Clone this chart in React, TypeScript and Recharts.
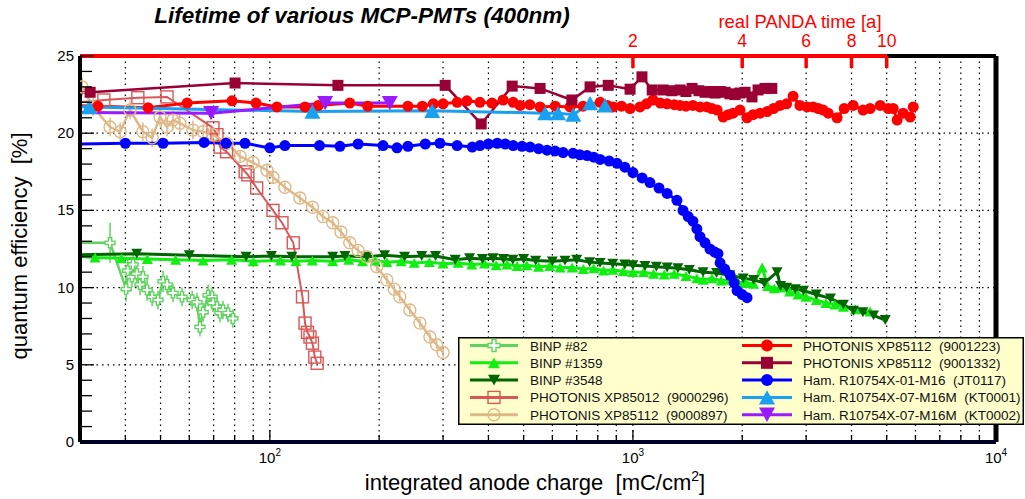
import { LineChart, Line, XAxis, YAxis, CartesianGrid, ReferenceLine, ErrorBar, Legend, Label } from 'recharts'

const W = 1025
const H = 499
const FONT = '"Liberation Sans", Arial, Helvetica, sans-serif'

// axes
const chargeDomain = [30, 10000]
const chargeTicks = [40, 50, 60, 70, 80, 90, 100, 200, 300, 400, 500, 600, 700, 800, 900, 1000, 2000, 3000, 4000, 5000, 6000, 7000, 8000, 9000, 10000]
const chargeGrid = chargeTicks.slice(0, -1)
const qeTicks = [0, 1, 2, 3, 4, 5, 6, 7, 8, 9, 10, 11, 12, 13, 14, 15, 16, 17, 18, 19, 20, 21, 22, 23, 24, 25]
const qeGrid = [5, 10, 15, 20]
const pandaYears = [2, 4, 6, 8, 10]
const chargePerYear = 500
const pandaTicks = pandaYears.map(y => y * chargePerYear)

// [charge, QE, error]
const binp82 = [[27, 12.9, 0], [36.3, 12.9, 1.3], [40.2, 9.9, 0.8], [40.6, 11.1, 0.7], [41.7, 10.7, 0.7], [42, 11.5, 0.7], [43, 10.9, 0.7], [43.9, 10.2, 0.7], [44.7, 10.7, 0.7], [45.9, 9.85, 0.7], [47.4, 9.4, 0.6], [49.2, 9.2, 0.6], [50.8, 10.4, 0.7], [52.1, 10.2, 0.6], [54.1, 9.65, 0.6], [57.3, 9.4, 0.6], [61.1, 9.2, 0.6], [63, 9.05, 0.6], [64.2, 7.45, 0.6], [65.5, 8.4, 0.6], [67.6, 9.5, 0.7], [69.3, 9.4, 0.6], [69.7, 9.0, 0.6], [71.5, 8.75, 0.6], [72.9, 8.35, 0.6], [74.3, 8.55, 0.6], [76.7, 8.35, 0.6], [79.1, 8.0, 0.6]]
const binp1359 = [[27, 12.1], [33, 11.95], [39, 11.9], [46, 11.85], [55, 11.8], [65.5, 11.75], [78.5, 11.8], [90, 11.7], [107, 11.75], [118, 11.7], [131, 11.75], [149, 11.7], [165, 11.8], [180, 11.7], [195, 11.75], [210, 11.65], [230, 11.7], [250, 11.6], [275, 11.65], [300, 11.55], [330, 11.6], [360, 11.5], [390, 11.55], [420, 11.45], [450, 11.5], [480, 11.4], [510, 11.45], [550, 11.35], [590, 11.4], [630, 11.3], [680, 11.3], [730, 11.2], [780, 11.25], [830, 11.1], [880, 11.15], [940, 11.05], [1000, 11.0], [1070, 11.0], [1140, 10.9], [1220, 10.85], [1300, 10.9], [1400, 10.75], [1500, 10.6], [1560, 10.5], [1650, 10.6], [1750, 10.45], [1850, 10.5], [1950, 10.35], [2050, 10.3], [2150, 10.25], [2270, 11.3], [2350, 10.1], [2450, 9.95], [2550, 10.0], [2700, 9.75], [2850, 9.55], [3000, 9.4], [3200, 9.2], [3400, 9.0], [3600, 8.9], [3800, 8.75], [4100, 8.6], [4500, 8.45]]
const binp3548 = [[27, 12.1], [43, 12.2], [60, 12.1], [86, 12.0], [101, 12.05], [115, 12.0], [149, 12.0], [161, 12.05], [185, 12.0], [207, 12.1], [235, 12.0], [262, 12.05], [286, 12.05], [324, 11.8], [355, 11.9], [385, 11.85], [412, 11.9], [440, 11.85], [467, 11.8], [500, 11.85], [540, 11.75], [600, 11.7], [650, 11.75], [700, 11.8], [760, 11.65], [812, 11.6], [880, 11.55], [950, 11.5], [1000, 11.45], [1080, 11.4], [1160, 11.35], [1242, 11.3], [1330, 11.25], [1430, 11.15], [1560, 11.0], [1700, 10.95], [1850, 10.8], [2013, 10.6], [2150, 10.5], [2300, 10.3], [2495, 11.0], [2550, 10.1], [2650, 10.0], [2800, 9.9], [2950, 9.8], [3200, 9.55], [3500, 9.3], [3800, 8.9], [4050, 8.5], [4300, 8.4], [4600, 8.2], [4955, 7.9]]
const xp9000296 = [[27, 21.9], [34.9, 22.15], [43.3, 22.3], [52.1, 22.35], [69.7, 20.35], [71.5, 19.9], [73, 19.1], [76, 18.8], [85.5, 17.5], [87, 17.3], [92, 16.45], [102, 15.0], [108, 14.2], [116, 12.9], [123, 9.4], [125, 7.7], [127, 7.1], [129, 6.8], [131, 6.4], [133, 5.5], [135, 5.1]]
const xp9000897 = [[27, 23.3, 0], [30.4, 23.0, 0.6], [32.6, 21.7, 0.6], [36.3, 20.4, 0.6], [38.7, 20.1, 0.6], [41.2, 21.5, 0.6], [44.7, 20.1, 0.6], [47.4, 19.7, 0.6], [49.8, 21.05, 0.6], [52.1, 20.4, 0.6], [54.1, 20.85, 0.6], [56.5, 20.65, 0.6], [61.4, 20.2, 0.6], [65.5, 20.1, 0.5], [69.7, 19.9, 0.5], [76.2, 19.35, 0.4], [82.8, 18.5, 0.4], [89.9, 18.1, 0.4], [98.2, 17.6, 0.4], [102, 17.15, 0.4], [110, 16.5, 0.3], [121, 15.8, 0.3], [131, 15.2, 0.3], [140, 14.6, 0.3], [149, 14.2, 0.3], [157, 13.6, 0.3], [166, 12.9, 0.3], [175, 12.4, 0.3], [185, 12.0, 0.3], [197, 11.35, 0.3], [210, 10.5, 0.3], [220, 9.9, 0.3], [228, 9.4, 0.3], [243, 8.55, 0.3], [259, 7.7, 0.3], [276, 6.8, 0.3], [288, 6.3, 0.3], [300, 5.8, 0.3]]
const xp9001223 = [[27, 21.8], [33.6, 21.75], [46.2, 21.65], [59.2, 21.95], [78.7, 22.1], [91.6, 21.95], [104.6, 21.7], [125, 21.7], [136, 21.8], [166, 21.95], [186, 21.75], [240, 21.75], [263, 21.75], [282, 21.9], [300, 21.9], [328, 22.0], [349, 22.1], [379, 22.0], [409, 21.95], [439, 22.15], [468, 22.0], [489, 21.8], [520, 21.85], [555, 21.7], [611, 21.75], [671, 21.7], [729, 21.75], [812, 22.0], [850, 21.8], [882, 21.7], [930, 21.75], [982, 21.6], [1046, 21.7], [1090, 21.9], [1136, 22.15], [1190, 21.95], [1242, 21.9], [1300, 21.85], [1348, 21.8], [1400, 21.75], [1463, 21.8], [1530, 21.7], [1598, 21.7], [1650, 21.6], [1706, 21.5], [1772, 21.05], [1830, 21.2], [1888, 21.3], [1972, 21.5], [2062, 21.0], [2143, 21.2], [2240, 21.3], [2343, 21.4], [2440, 21.6], [2543, 21.8], [2650, 21.9], [2761, 22.4], [2884, 21.8], [3019, 21.7], [3133, 21.7], [3240, 21.6], [3342, 21.5], [3450, 21.3], [3650, 21.0], [3820, 21.6], [4042, 21.8], [4305, 21.5], [4500, 21.6], [4800, 21.8], [5050, 21.6], [5210, 21.6], [5343, 20.85], [5550, 21.3], [5803, 21.05], [5918, 21.7]]
const xp9001332 = [[27, 22.6], [32, 22.65], [80.2, 23.25], [154, 23.1], [304, 23.1], [382, 20.6], [465, 23.05], [555, 22.9], [679, 22.15], [762, 23.0], [855, 23.1], [982, 22.85], [1059, 23.65], [1130, 22.8], [1211, 22.8], [1280, 22.75], [1349, 22.8], [1400, 22.7], [1455, 22.9], [1520, 22.75], [1580, 22.65], [1630, 22.7], [1683, 22.6], [1740, 22.7], [1794, 22.65], [1850, 22.55], [1910, 22.5], [1970, 22.6], [2036, 22.65], [2128, 22.35], [2211, 22.8], [2311, 22.9], [2413, 22.9]]
const jt0117 = [[27, 19.28], [40, 19.35], [50.8, 19.35], [65.9, 19.4], [75.7, 19.35], [85.4, 19.35], [100, 19.05], [110, 19.2], [137, 19.2], [156, 19.15], [175, 19.3], [205, 19.2], [224, 19.05], [240, 19.15], [268, 19.3], [294, 19.35], [328, 19.2], [361, 19.1], [379, 19.2], [400, 19.3], [423, 19.35], [445, 19.3], [468, 19.2], [495, 19.15], [521, 19.1], [550, 19.0], [580, 18.9], [610, 18.85], [642, 18.75], [684, 18.7], [715, 18.6], [748, 18.55], [780, 18.45], [812, 18.3], [860, 18.2], [904, 18.05], [950, 17.8], [1000, 17.45], [1060, 17.1], [1114, 16.8], [1180, 16.45], [1242, 16.1], [1322, 15.65], [1374, 15.0], [1420, 14.6], [1463, 14.3], [1500, 13.8], [1530, 13.3], [1580, 12.9], [1630, 12.5], [1680, 12.3], [1715, 12.2], [1738, 11.6], [1790, 11.2], [1852, 10.8], [1900, 10.3], [1936, 9.8], [2000, 9.55], [2062, 9.35]]
const kt0001 = [[27, 21.75], [31.8, 21.7], [131, 21.4], [280, 21.45], [573, 21.3], [622, 21.3], [685, 21.2], [762, 21.95], [838, 21.8]]
const kt0002 = [[27, 21.35], [68.9, 21.3], [142, 21.95], [214, 21.95]]

const toRows = (arr: number[][]) => arr.map(([x, y, e]) => ({ x, y, e: e ?? 0 }))

type Kind = 'ocross' | 'tup' | 'tdown' | 'osquare' | 'ocircle' | 'circle' | 'square'

const series = [
  { name: 'BINP #82', data: binp82, color: '#5fd35f', kind: 'ocross', size: 10, lw: 2.5, err: true },
  { name: 'BINP #1359', data: binp1359, color: '#11ee11', kind: 'tup', size: 11, lw: 3 },
  { name: 'BINP #3548', data: binp3548, color: '#006600', kind: 'tdown', size: 11, lw: 3 },
  { name: 'PHOTONIS XP85012  (9000296)', data: xp9000296, color: '#d95757', kind: 'osquare', size: 12, lw: 2 },
  { name: 'PHOTONIS XP85112  (9000897)', data: xp9000897, color: '#deb887', kind: 'ocircle', size: 12, lw: 2.5, err: true },
  { name: 'PHOTONIS XP85112  (9001223)', data: xp9001223, color: '#ff0000', kind: 'circle', size: 11, lw: 3 },
  { name: 'PHOTONIS XP85112  (9001332)', data: xp9001332, color: '#990033', kind: 'square', size: 11, lw: 2.5 },
  { name: 'Ham. R10754X-01-M16  (JT0117)', data: jt0117, color: '#0000ff', kind: 'circle', size: 11, lw: 3 },
  { name: 'Ham. R10754X-07-M16M  (KT0001)', data: kt0001, color: '#1aa0f0', kind: 'tup', size: 16, lw: 3 },
  { name: 'Ham. R10754X-07-M16M  (KT0002)', data: kt0002, color: '#9a1aff', kind: 'tdown', size: 16, lw: 3 },
]

function Marker({ kind, cx, cy, color, size }: { kind: Kind; cx: number; cy: number; color: string; size: number }) {
  const h = size / 2
  const t = size * 0.45
  switch (kind) {
    case 'circle':
      return <circle cx={cx} cy={cy} r={h} fill={color} />
    case 'ocircle':
      return <circle cx={cx} cy={cy} r={h} fill="none" stroke={color} strokeWidth={1.4} />
    case 'square':
      return <rect x={cx - h} y={cy - h} width={size} height={size} fill={color} />
    case 'osquare':
      return <rect x={cx - h} y={cy - h} width={size} height={size} fill="none" stroke={color} strokeWidth={1.4} />
    case 'tup':
      return <polygon points={`${cx},${cy - t} ${cx - h},${cy + t} ${cx + h},${cy + t}`} fill={color} />
    case 'tdown':
      return <polygon points={`${cx},${cy + t} ${cx - h},${cy - t} ${cx + h},${cy - t}`} fill={color} />
    default: {
      const a = size / 6
      const p = [[-a, -h], [a, -h], [a, -a], [h, -a], [h, a], [a, a], [a, h], [-a, h], [-a, a], [-h, a], [-h, -a], [-a, -a]]
      return <polygon points={p.map(([dx, dy]) => `${cx + dx},${cy + dy}`).join(' ')} fill="#fff" stroke={color} strokeWidth={1.4} />
    }
  }
}

const BottomTick = (p: any) => {
  const v = p.payload.value
  const exp = Math.round(Math.log10(v))
  const major = Math.abs(v - Math.pow(10, exp)) < 1e-6
  return (
    <g>
      <line x1={p.x} x2={p.x} y1={p.y} y2={p.y - (major ? 12 : 7)} stroke="#000" strokeWidth={1.3} />
      {major && (
        <text x={p.x} y={p.y + 21} textAnchor="middle" fontSize={15} fill="#000">
          10<tspan dy={-7} fontSize={10}>{exp}</tspan>
        </text>
      )}
    </g>
  )
}

const TopTick = (p: any) => (
  <g>
    <line x1={p.x} x2={p.x} y1={p.y} y2={p.y + 12} stroke="#ff0000" strokeWidth={3.5} />
    <text x={p.x} y={p.y - 9} textAnchor="middle" fontSize={17.5} fill="#ff0000">{p.payload.value / chargePerYear}</text>
  </g>
)

const LeftTick = (p: any) => {
  const v = p.payload.value
  const major = v % 5 === 0
  return (
    <g>
      <line x1={p.x} x2={p.x + (major ? 14 : 12)} y1={p.y} y2={p.y} stroke="#000" strokeWidth={1.3} />
      {major && <text x={p.x - 6} y={p.y + 5} textAnchor="end" fontSize={15} fill="#000">{v}</text>}
    </g>
  )
}

function LegendBox() {
  const cols = [{ line: [12, 60], mark: 36, text: 72 }, { line: [284, 334], mark: 309, text: 345 }]
  return (
    <svg width={566} height={88} style={{ display: 'block', fontFamily: FONT }}>
      <rect x={0.75} y={0.75} width={564.5} height={86.5} fill="#ffffcc" stroke="#000" strokeWidth={1.5} />
      {series.map((s, i) => {
        const c = cols[i < 5 ? 0 : 1]
        const y = 8.5 + (i % 5) * 17.3
        return (
          <g key={s.name}>
            <line x1={c.line[0]} x2={c.line[1]} y1={y} y2={y} stroke={s.color} strokeWidth={3} />
            <Marker kind={s.kind as Kind} cx={c.mark} cy={y} color={s.color} size={s.kind === 'tup' || s.kind === 'tdown' ? (s.size > 12 ? 16 : 12) : 12} />
            <text x={c.text} y={y + 5} fontSize={13.5} fill="#111" style={{ whiteSpace: 'pre' }}>{s.name}</text>
          </g>
        )
      })}
    </svg>
  )
}

export default function App() {
  return (
    <div style={{ position: 'absolute', left: 0, top: 0, width: W, height: H, background: '#fff', fontFamily: FONT }}>
      <LineChart width={W} height={H} margin={{ top: 16, right: 29, bottom: 17, left: 20 }} style={{ fontFamily: FONT }}>
        <CartesianGrid xAxisId="b" yAxisId="l" verticalValues={chargeGrid} horizontalValues={qeGrid} stroke="#000" strokeWidth={1.2} strokeDasharray="1.5 4" />
        <XAxis xAxisId="b" type="number" dataKey="x" scale="log" domain={chargeDomain} allowDataOverflow ticks={chargeTicks} interval={0}
          tick={BottomTick} tickLine={false} tickSize={0} tickMargin={0} height={40} axisLine={{ stroke: '#00002a', strokeWidth: 4 }}>
          <Label content={() => (
            <text x={535} y={490} textAnchor="middle" fontSize={22} fill="#000" style={{ whiteSpace: 'pre' }}>
              integrated anode charge  [mC/cm<tspan dy={-9} fontSize={14}>2</tspan><tspan dy={9}>]</tspan>
            </text>
          )} />
        </XAxis>
        <XAxis xAxisId="t" orientation="top" type="number" dataKey="x" scale="log" domain={chargeDomain} allowDataOverflow ticks={pandaTicks} interval={0}
          tick={TopTick} tickLine={false} tickSize={0} tickMargin={0} height={40} axisLine={false}>
          <Label content={() => (
            <g>
              <text x={362} y={23} textAnchor="middle" fontSize={22.5} fontWeight="bold" fontStyle="italic" fill="#000">Lifetime of various MCP-PMTs (400nm)</text>
              <text x={800} y={28} textAnchor="middle" fontSize={18.5} fill="#ff0000">real PANDA time [a]</text>
            </g>
          )} />
        </XAxis>
        <YAxis yAxisId="l" type="number" domain={[0, 25]} ticks={qeTicks} interval={0} tick={LeftTick} tickLine={false} tickSize={0} tickMargin={0}
          width={60} axisLine={{ stroke: '#000', strokeWidth: 4 }}>
          <Label content={() => (
            <text x={27} y={246} transform="rotate(-90, 27, 246)" textAnchor="middle" fontSize={22} fill="#000" style={{ whiteSpace: 'pre' }}>quantum efficiency  [%]</text>
          )} />
        </YAxis>
        <ReferenceLine xAxisId="b" yAxisId="l" segment={[{ x: chargeDomain[0], y: 25 }, { x: pandaTicks[pandaTicks.length - 1], y: 25 }]} stroke="#ff0000" strokeWidth={4} ifOverflow="visible" />
        <ReferenceLine xAxisId="b" yAxisId="l" segment={[{ x: pandaTicks[pandaTicks.length - 1], y: 25 }, { x: chargeDomain[1], y: 25 }]} stroke="#000" strokeWidth={4} ifOverflow="visible" />
        <ReferenceLine xAxisId="b" yAxisId="l" x={chargeDomain[1]} stroke="#000" strokeWidth={5} ifOverflow="visible" />
        {series.map(s => (
          <Line key={s.name} xAxisId="b" yAxisId="l" type="linear" data={toRows(s.data)} dataKey="y" name={s.name}
            stroke={s.color} strokeWidth={s.lw} isAnimationActive={false} activeDot={false}
            dot={(p: any) => <Marker key={`${s.name}-${p.index}`} kind={s.kind as Kind} cx={p.cx} cy={p.cy} color={s.color} size={s.size} />}>
            {s.err && <ErrorBar dataKey="e" direction="y" width={0} stroke={s.color} strokeWidth={1.5} />}
          </Line>
        ))}
        <Legend content={() => <LegendBox />} layout="horizontal" verticalAlign="middle" align="center"
          wrapperStyle={{ left: 458, top: 337, width: 566, height: 88 }} />
      </LineChart>
    </div>
  )
}
